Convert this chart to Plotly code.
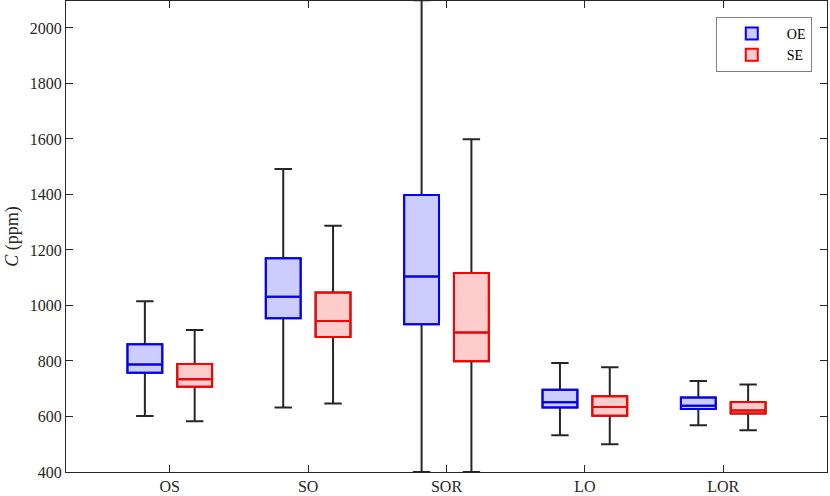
import plotly.graph_objects as go

categories = ["OS", "SO", "SOR", "LO", "LOR"]

# OE (blue)
oe_lower = [602, 632, 400, 532, 568]
oe_q1 = [758, 954, 932, 632, 627]
oe_median = [787, 1031, 1104, 651, 639]
oe_q3 = [860, 1170, 1398, 696, 668]
oe_upper = [1015, 1492, 2100, 793, 728]

# SE (red)
se_lower = [583, 647, 400, 500, 550]
se_q1 = [707, 886, 799, 603, 611]
se_median = [734, 944, 903, 634, 622]
se_q3 = [789, 1047, 1117, 673, 652]
se_upper = [912, 1287, 1599, 777, 715]

WHISKER = "#262626"
FONT = "Liberation Serif"

fig = go.Figure()

series = [
    ("OE", "#0000FF", "rgba(0,0,255,0.2)", oe_lower, oe_q1, oe_median, oe_q3, oe_upper),
    ("SE", "#FF0000", "rgba(255,0,0,0.2)", se_lower, se_q1, se_median, se_q3, se_upper),
]

# whiskers (black) underneath
for name, col, fill, lo, q1, med, q3, up in series:
    fig.add_trace(go.Box(
        x=categories, q1=q1, median=med, q3=q3, lowerfence=lo, upperfence=up,
        name=name, offsetgroup=name, showlegend=False, hoverinfo="skip",
        line=dict(color=WHISKER, width=2), fillcolor="rgba(0,0,0,0)",
        whiskerwidth=0.5, boxpoints=False,
    ))

# coloured boxes on top
for name, col, fill, lo, q1, med, q3, up in series:
    fig.add_trace(go.Box(
        x=categories, q1=q1, median=med, q3=q3, lowerfence=q1, upperfence=q3,
        name=name, offsetgroup=name, showlegend=True,
        line=dict(color=col, width=2), fillcolor=fill,
        whiskerwidth=0, boxpoints=False,
    ))

axis_common = dict(
    showline=True, linecolor=WHISKER, linewidth=1, mirror="ticks",
    ticks="inside", ticklen=7, tickcolor=WHISKER, showgrid=False, zeroline=False,
    tickfont=dict(family=FONT, size=16, color=WHISKER),
)

fig.update_layout(
    width=830, height=496,
    margin=dict(l=66, r=3, t=1, b=24),
    paper_bgcolor="white", plot_bgcolor="white",
    boxmode="group", boxgap=0.28, boxgroupgap=0.3,
    font=dict(family=FONT, size=16, color=WHISKER),
    xaxis=dict(range=[-0.75, 4.75], type="category", automargin=False, **axis_common),
    yaxis=dict(range=[400, 2097], tickvals=[400, 600, 800, 1000, 1200, 1400, 1600, 1800, 2000],
               title=dict(text="<i>C</i> (ppm)", font=dict(family=FONT, size=18, color=WHISKER), standoff=6),
               automargin=False, **axis_common),
    legend=dict(x=0.98, y=0.966, xanchor="right", yanchor="top",
                bordercolor="#7f7f7f", borderwidth=1, bgcolor="white",
                font=dict(family=FONT, size=14, color="black"),
                itemwidth=60, tracegroupgap=0),
)

fig.write_html("out.html", config={"displayModeBar": False},
               post_script="document.body.style.margin='0';document.body.style.padding='0';")
